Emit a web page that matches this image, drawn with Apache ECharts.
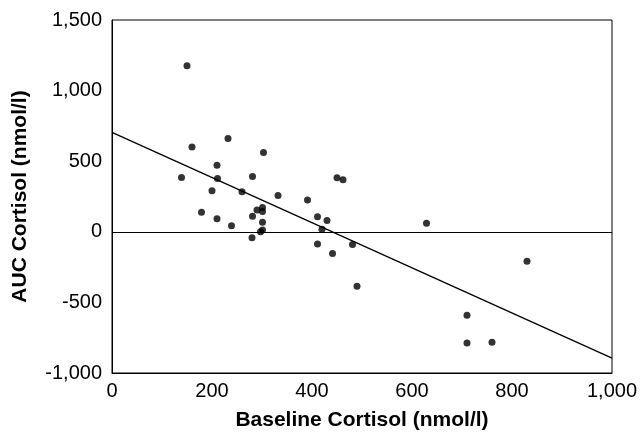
<!DOCTYPE html>
<html>
<head>
<meta charset="utf-8">
<script src="https://cdn.jsdelivr.net/npm/echarts@6/dist/echarts.min.js"></script>
<style>html,body{margin:0;padding:0;background:#fff}#c{width:640px;height:433px}</style>
</head>
<body>
<div id="c"></div>
<script>
const baselineX = [150,160,232,303,139,210,211,281,200,260,332,391,450,462,179,210,239,281,290,301,301,301,301,297,280,411,430,420,411,441,481,490,629,830,710,710,760];
const aucY = [1176,600,661,562,385,472,378,392,290,283,257,226,382,368,139,92,42,111,155,172,144,68,12,0,-43,106,80,18,-86,-154,-90,-386,61,-208,-591,-787,-783];
const fitX = [0, 1000];
const fitY = [704, -894];
const xTicks = [0, 200, 400, 600, 800, 1000];
const yTicks = [-1000, -500, 0, 500, 1000, 1500];
const xTitle = 'Baseline Cortisol (nmol/l)';
const yTitle = 'AUC Cortisol (nmol/l)';

const fmt = v => Number(v).toLocaleString('en-US');
const font = 'Liberation Sans, Arial, Helvetica, sans-serif';
const chart = echarts.init(document.getElementById('c'), null, {renderer: 'canvas'});
chart.setOption({
  animation: false,
  backgroundColor: '#fff',
  grid: {left: 112, right: 28, top: 20, bottom: 60, containLabel: false, outerBoundsMode: 'none',
         show: true, borderColor: '#000', borderWidth: 1, backgroundColor: 'transparent'},
  xAxis: {
    type: 'value', min: xTicks[0], max: xTicks[xTicks.length-1], interval: 200,
    name: xTitle, nameLocation: 'middle', nameGap: 37,
    nameTextStyle: {fontFamily: font, fontSize: 21, fontWeight: 'bold', color: '#000'},
    axisLine: {show: true, onZero: false, lineStyle: {color: '#000', width: 1}},
    axisTick: {show: false}, splitLine: {show: false},
    axisLabel: {fontFamily: font, fontSize: 20, color: '#000', margin: 8, formatter: fmt}
  },
  yAxis: {
    type: 'value', min: yTicks[0], max: yTicks[yTicks.length-1], interval: 500,
    name: yTitle, nameLocation: 'middle', nameGap: 81, nameRotate: 90,
    nameTextStyle: {fontFamily: font, fontSize: 21, fontWeight: 'bold', color: '#000'},
    axisLine: {show: true, onZero: false, lineStyle: {color: '#000', width: 1}},
    axisTick: {show: false}, splitLine: {show: false},
    axisLabel: {fontFamily: font, fontSize: 20, color: '#000', margin: 10, formatter: fmt}
  },
  series: [
    {
      type: 'scatter', symbol: 'circle', symbolSize: 7,
      itemStyle: {color: '#000'},
      data: baselineX.map((x, i) => [x, aucY[i]]),
      markLine: {
        silent: true, symbol: ['none', 'none'], label: {show: false},
        lineStyle: {color: '#000', width: 1, type: 'solid'},
        data: [{yAxis: 0}]
      },
      z: 3
    },
    {
      type: 'line', showSymbol: false, symbol: 'none',
      lineStyle: {color: '#000', width: 1.3},
      data: fitX.map((x, i) => [x, fitY[i]]),
      z: 2
    }
  ]
});
</script>
</body>
</html>
